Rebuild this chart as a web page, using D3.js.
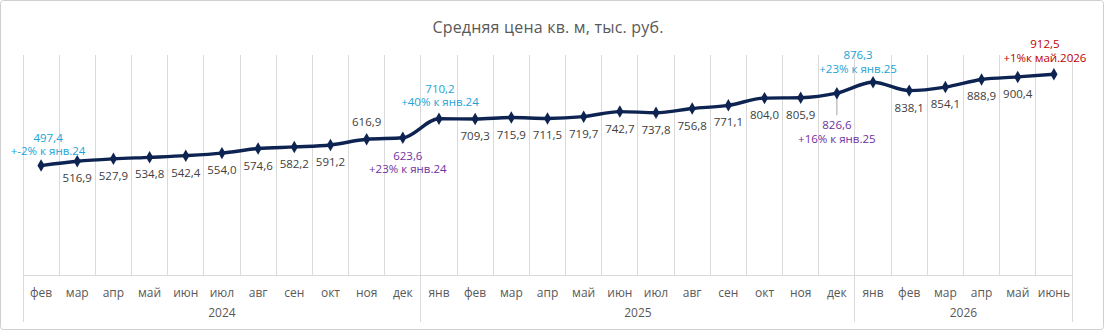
<!DOCTYPE html>
<html>
<head>
<meta charset="utf-8">
<script src="https://cdn.jsdelivr.net/npm/d3@7"></script>
<style>
  body { margin: 0; background: #fff; }
  svg { display: block; font-family: "Open Sans", sans-serif; }
</style>
</head>
<body>
<svg id="viz" width="1104" height="332"></svg>
<script>
var title = "Средняя цена кв. м, тыс. руб.";
var years = ["2024", "2025", "2026"];
var months2024 = ["фев", "мар", "апр", "май", "июн", "июл", "авг", "сен", "окт", "ноя", "дек"];
var months2025 = ["янв", "фев", "мар", "апр", "май", "июн", "июл", "авг", "сен", "окт", "ноя", "дек"];
var months2026 = ["янв", "фев", "мар", "апр", "май", "июнь"];
var prices = [497.4, 516.9, 527.9, 534.8, 542.4, 554.0, 574.6, 582.2, 591.2, 616.9, 623.6,
    710.2, 709.3, 715.9, 711.5, 719.7, 742.7, 737.8, 756.8, 771.1, 804.0, 805.9, 826.6,
    876.3, 838.1, 854.1, 888.9, 900.4, 912.5];
var noteIndex = [0, 10, 11, 22, 23, 28];
var noteText = ["+-2% к янв.24", "+23% к янв.24", "+40% к янв.24", "+16% к янв.25", "+23% к янв.25", "+1%к май.2026"];

window.addEventListener("load", run);

function run() {
    var svg = d3.select("#viz");
    var width = +svg.attr("width");
    var height = +svg.attr("height");

    var groups = [months2024, months2025, months2026];
    var cats = [];
    groups.forEach(function (g, gi) {
        g.forEach(function (m) {
            cats.push({ month: m, year: years[gi] });
        });
    });

    var left = 23, right = 1072, top = 55, bottom = 275;
    var x = d3.scaleBand().domain(d3.range(cats.length)).range([left, right]);
    var y = d3.scaleLinear().domain([0, 1000]).range([bottom, top]);
    var cx = function (i) { return x(i) + x.bandwidth() / 2; };
    var fmt = d3.formatLocale({ decimal: ",", thousands: " ", grouping: [3], currency: ["", ""] }).format(".1f");

    // outer frame
    svg.append("rect")
        .attr("x", 0.5).attr("y", 0.5)
        .attr("width", width - 1).attr("height", height - 3)
        .attr("rx", 3)
        .style("fill", "#fff")
        .style("stroke", "#cfcfcf");

    svg.append("text")
        .attr("x", width / 2 - 4)
        .attr("y", 27)
        .attr("dy", "0.35em")
        .style("text-anchor", "middle")
        .style("font-size", "16px")
        .style("letter-spacing", "0.2px")
        .style("fill", "#595959")
        .text(title);

    // vertical gridlines at band edges
    var edges = d3.range(cats.length + 1);
    var yearStart = [0, months2024.length, months2024.length + months2025.length, cats.length];
    svg.append("g").selectAll("line").data(edges).enter()
        .append("line")
        .attr("x1", function (i) { return i < cats.length ? x(i) : right; })
        .attr("x2", function (i) { return i < cats.length ? x(i) : right; })
        .attr("y1", top)
        .attr("y2", function (i) { return yearStart.indexOf(i) >= 0 ? 322 : bottom; })
        .style("stroke", "#d9d9d9")
        .style("stroke-width", 1)
        .attr("shape-rendering", "crispEdges");

    svg.append("line")
        .attr("x1", left).attr("x2", right)
        .attr("y1", y(0)).attr("y2", y(0))
        .style("stroke", "#d9d9d9")
        .attr("shape-rendering", "crispEdges");

    // month labels
    svg.append("g").selectAll("text").data(cats).enter()
        .append("text")
        .attr("x", function (d, i) { return cx(i); })
        .attr("y", 293)
        .attr("dy", "0.35em")
        .style("text-anchor", "middle")
        .style("font-size", "12px")
        .style("fill", "#595959")
        .text(function (d) { return d.month; });

    // year labels
    years.forEach(function (yr, gi) {
        var a = yearStart[gi], b = yearStart[gi + 1];
        var x0 = x(a), x1 = b < cats.length ? x(b) : right;
        svg.append("text")
            .attr("x", (x0 + x1) / 2)
            .attr("y", 313)
            .attr("dy", "0.35em")
            .style("text-anchor", "middle")
            .style("font-size", "12px")
            .style("fill", "#595959")
            .text(yr);
    });

    // leader line for dec 2025 note
    svg.append("line")
        .attr("x1", cx(22)).attr("x2", cx(22))
        .attr("y1", y(prices[22]) + 4).attr("y2", y(prices[22]) + 22)
        .style("stroke", "#a6a6a6")
        .style("stroke-width", 1);

    var line = d3.line()
        .x(function (d, i) { return cx(i); })
        .y(function (d) { return y(d); })
        .curve(d3.curveMonotoneX);

    svg.append("path")
        .datum(prices)
        .attr("d", line)
        .style("fill", "none")
        .style("stroke", "#0d2352")
        .style("stroke-width", 3.4)
        .style("stroke-linejoin", "round");

    svg.append("g").selectAll("path").data(prices).enter()
        .append("path")
        .attr("d", d3.symbol().type(d3.symbolDiamond).size(45))
        .attr("transform", function (d, i) { return "translate(" + cx(i) + "," + y(d) + ")"; })
        .style("fill", "#0d2352");

    // value labels
    var special = {
        0: { dx: 7, dy: -28, color: "#1aa3d6" },
        9: { dx: 0, dy: -17, color: "#404040" },
        10: { dx: 5, dy: 18, color: "#7030a0" },
        11: { dx: 1, dy: -30, color: "#1aa3d6" },
        22: { dx: 0, dy: 32, color: "#7030a0" },
        23: { dx: -15, dy: -27, color: "#1aa3d6" },
        28: { dx: -9, dy: -30, color: "#c00000" }
    };
    prices.forEach(function (v, i) {
        var s = special[i] || { dx: 0, dy: 17, color: "#404040" };
        var px = cx(i) + s.dx;
        var py = y(v) + s.dy;
        svg.append("text")
            .attr("x", px)
            .attr("y", py)
            .attr("dy", "0.35em")
            .style("text-anchor", "middle")
            .style("font-size", "11.5px")
            .style("fill", s.color)
            .text(fmt(v));
        var k = noteIndex.indexOf(i);
        if (k >= 0) {
            svg.append("text")
                .attr("x", px)
                .attr("y", py + 13.5)
                .attr("dy", "0.35em")
                .style("text-anchor", "middle")
                .style("font-size", "11.5px")
                .style("fill", s.color)
                .text(noteText[k]);
        }
    });
}
</script>
</body>
</html>
